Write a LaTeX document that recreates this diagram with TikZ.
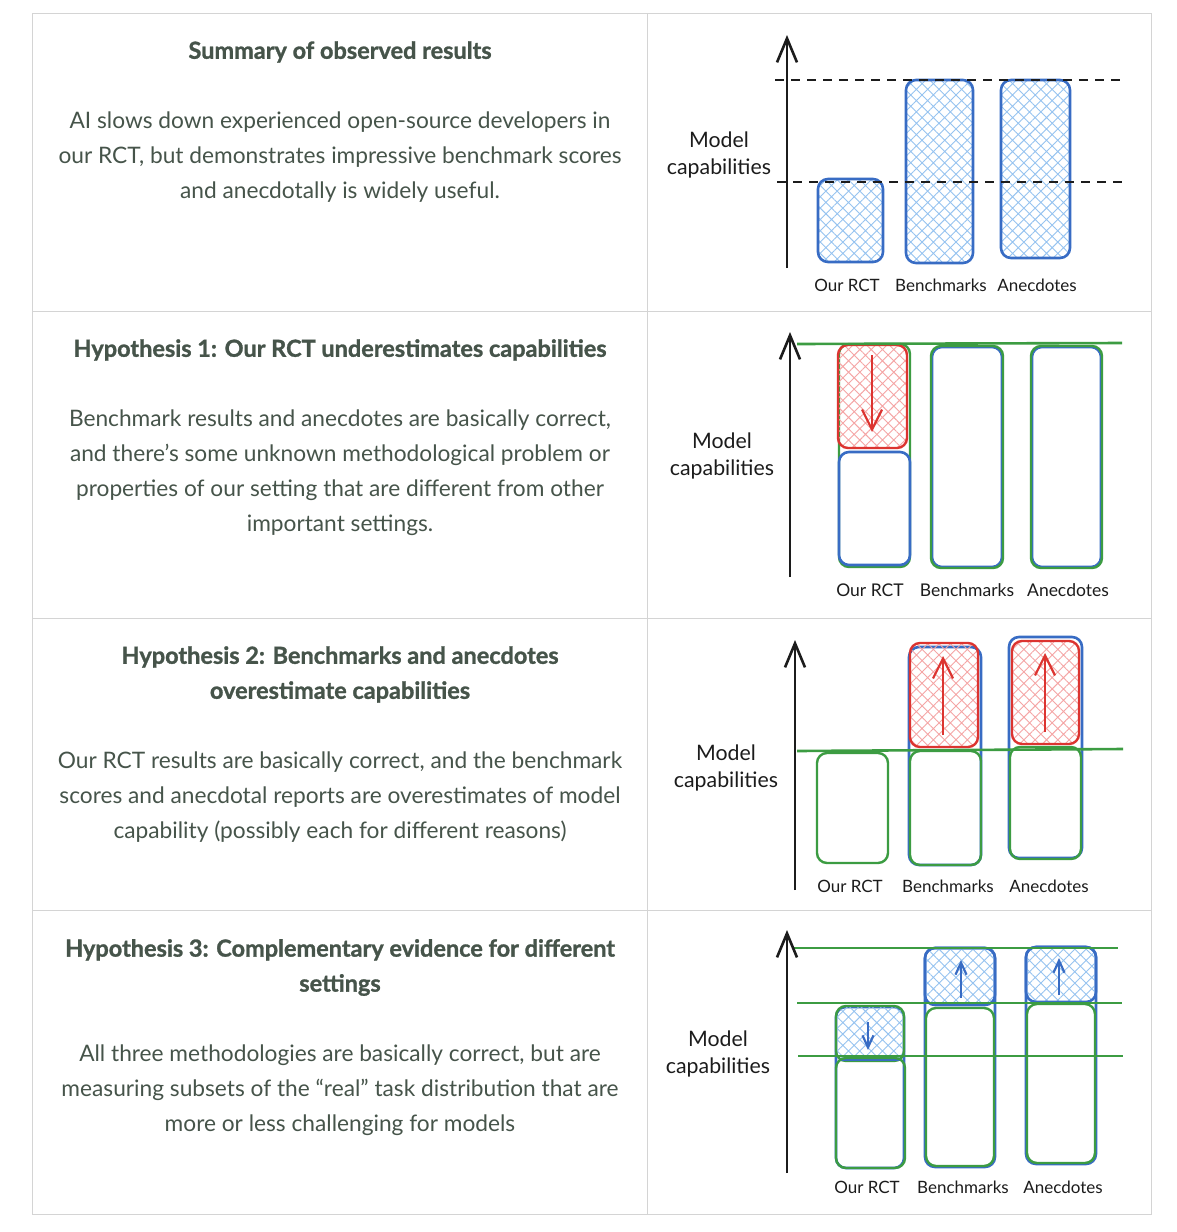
\documentclass[tikz,border=0pt]{standalone}
\usepackage{fontspec}
\setmainfont{Lato}[BoldFeatures={FakeBold=1.2}]
\usetikzlibrary{arrows.meta,patterns.meta}
\definecolor{txt}{RGB}{70,84,74}
\definecolor{xblue}{RGB}{56,108,196}
\definecolor{xgreen}{RGB}{60,156,66}
\definecolor{xred}{RGB}{220,52,48}
\definecolor{lblue}{RGB}{150,195,240}
\definecolor{lred}{RGB}{245,165,165}
\definecolor{gridc}{RGB}{212,212,212}
\definecolor{ink}{RGB}{28,28,28}
\begin{document}
\begin{tikzpicture}[x=1pt,y=-1pt,
 head/.style={text=txt,font=\fontsize{23.5}{35}\selectfont\bfseries,align=center},
 body/.style={text=txt,font=\fontsize{22.7}{35}\selectfont,align=center},
 lab/.style={text=ink,font=\fontsize{17}{27}\selectfont,align=center},
 ylab/.style={text=ink,font=\fontsize{21.3}{27}\selectfont,align=center},
 axisln/.style={draw=ink,line width=2.6pt,-{Straight Barb[length=24pt,width=20pt]}},
 bbox/.style={draw=xblue,line width=2.6pt,rounded corners=10pt},
 gbox/.style={draw=xgreen,line width=2.4pt,rounded corners=10pt},
 rbox/.style={draw=xred,line width=2.4pt,rounded corners=10pt},
 bhatch/.style={pattern={Hatch[angle=45,distance=8pt,line width=0.9pt]},pattern color=lblue},
 rhatch/.style={pattern={Hatch[angle=45,distance=8pt,line width=0.9pt]},pattern color=lred},
 dashln/.style={draw=ink,line width=2pt,dash pattern=on 9pt off 7pt},
 gline/.style={draw=xgreen,line width=2.6pt},
 rarrow/.style={draw=xred,line width=2.2pt,-{Straight Barb[length=20pt,width=20pt]}},
 barrow/.style={draw=xblue,line width=2.2pt,-{Straight Barb[length=12pt,width=11pt]}},
 tline/.style={draw=gridc,line width=1pt}
]
\useasboundingbox (0,0) rectangle (1176,1232);
\fill[white] (0,0) rectangle (1176,1232);
% table
\draw[tline] (32,13) rectangle (1151,1214);
\draw[tline] (647,13) -- (647,1214);
\draw[tline] (32,311) -- (1151,311);
\draw[tline] (32,618) -- (1151,618);
\draw[tline] (32,910) -- (1151,910);
% texts
\node[head] (h1) at (340,52) {Summary of observed results};
\node[body] (t1) at (340,157) {AI slows down experienced open-source developers in\\our RCT, but demonstrates impressive benchmark scores\\and anecdotally is widely useful.};
\node[head] (h2) at (340,350) {Hypothesis 1: Our RCT underestimates capabilities};
\node[body] (t2) at (340,472.5) {Benchmark results and anecdotes are basically correct,\\and there’s some unknown methodological problem or\\properties of our setting that are different from other\\important settings.};
\node[head] (h3) at (340,674.5) {Hypothesis 2: Benchmarks and anecdotes\\overestimate capabilities};
\node[body] (t3) at (340,797) {Our RCT results are basically correct, and the benchmark\\scores and anecdotal reports are overestimates of model\\capability (possibly each for different reasons)};
\node[head] (h4) at (340,967.5) {Hypothesis 3: Complementary evidence for different\\settings};
\node[body] (t4) at (340,1090) {All three methodologies are basically correct, but are\\measuring subsets of the “real” task distribution that are\\more or less challenging for models};
% ---------- panel 1
\draw[bbox,bhatch] (818,179) rectangle (883,262);
\draw[bbox,bhatch] (906,80) rectangle (973,263);
\draw[bbox,bhatch] (1001,80) rectangle (1070,258);
\draw[dashln] (775,80) -- (1120,80);
\draw[dashln] (777,182) -- (1123,182);
\coordinate (a1b) at (787,268); \coordinate (a1t) at (787,35);
\draw[axisln] (a1b) -- (a1t);
\node[ylab] (m1) at (719,155) {Model\\capabilities};
\node[lab] (o1) at (847,285) {Our RCT};
\node[lab] (be1) at (941,285) {Benchmarks};
\node[lab] (an1) at (1037,285) {Anecdotes};
% ---------- panel 2
\draw[gbox] (839,344) rectangle (910,567);
\draw[bbox] (839,452) rectangle (910,565);
\draw[rbox,rhatch] (838,345) rectangle (907,448);
\coordinate (r2t) at (872,355); \coordinate (r2b) at (872,432);
\draw[rarrow] (r2t) -- (r2b);
\draw[bbox] (932,347) rectangle (1002,567);
\draw[gbox] (931,346) rectangle (1003,568);
\draw[bbox] (1032,347) rectangle (1101,567);
\draw[gbox] (1031,346) rectangle (1102,568);
\draw[gline] (797,344) -- (1122,343);
\coordinate (a2b) at (790,577); \coordinate (a2t) at (790,332);
\draw[axisln] (a2b) -- (a2t);
\node[ylab] (m2) at (722,456) {Model\\capabilities};
\node[lab,font=\fontsize{17.5}{27}\selectfont] (o2) at (870,590) {Our RCT};
\node[lab,font=\fontsize{17.5}{27}\selectfont] (be2) at (967,590) {Benchmarks};
\node[lab,font=\fontsize{17.5}{27}\selectfont] (an2) at (1068,590) {Anecdotes};
% ---------- panel 3
\draw[gbox] (817,753) rectangle (888,863);
\draw[bbox] (909,647) rectangle (981,865);
\draw[rbox,rhatch] (910,643) rectangle (978,747);
\draw[gbox] (910,751) rectangle (981,865);
\coordinate (r3b) at (943,735); \coordinate (r3t) at (943,656);
\draw[rarrow] (r3b) -- (r3t);
\draw[bbox] (1009,637) rectangle (1082,858);
\draw[rbox,rhatch] (1012,641) rectangle (1079,744);
\draw[gbox] (1010,747) rectangle (1081,859);
\coordinate (r3b2) at (1045,732); \coordinate (r3t2) at (1045,653);
\draw[rarrow] (r3b2) -- (r3t2);
\draw[gline] (797,751) -- (1123,749);
\coordinate (a3b) at (795,890); \coordinate (a3t) at (795,640);
\draw[axisln] (a3b) -- (a3t);
\node[ylab] (m3) at (726,768) {Model\\capabilities};
\node[lab] (o3) at (850,886) {Our RCT};
\node[lab] (be3) at (948,886) {Benchmarks};
\node[lab] (an3) at (1049,886) {Anecdotes};
% ---------- panel 4
\draw[bbox] (836,1007) rectangle (904,1168);
\draw[gbox,bhatch] (836,1006) rectangle (904,1061);
\draw[bbox] (840,1060) -- (900,1060);
\draw[gbox] (836,1058) rectangle (905,1168);
\coordinate (b4t) at (868,1022); \coordinate (b4b) at (868,1050);
\draw[barrow] (b4t) -- (b4b);
\draw[bbox] (925,948) rectangle (995,1167);
\draw[bbox,bhatch] (925,948) rectangle (995,1005);
\draw[gbox] (926,1008) rectangle (994,1166);
\coordinate (b4b2) at (961,998); \coordinate (b4t2) at (961,960);
\draw[barrow] (b4b2) -- (b4t2);
\draw[bbox] (1026,947) rectangle (1096,1164);
\draw[bbox,bhatch] (1026,947) rectangle (1096,1002);
\draw[gbox] (1027,1004) rectangle (1095,1163);
\coordinate (b4b3) at (1059,995); \coordinate (b4t3) at (1059,958);
\draw[barrow] (b4b3) -- (b4t3);
\draw[gline] (793,948) -- (1118,948);
\draw[gline] (797,1003) -- (1122,1003);
\draw[gline] (798,1056) -- (1123,1056);
\coordinate (a4b) at (787,1173); \coordinate (a4t) at (787,930);
\draw[axisln] (a4b) -- (a4t);
\node[ylab] (m4) at (718,1054) {Model\\capabilities};
\node[lab] (o4) at (867,1187) {Our RCT};
\node[lab] (be4) at (963,1187) {Benchmarks};
\node[lab] (an4) at (1063,1187) {Anecdotes};
\end{tikzpicture}
\end{document}
